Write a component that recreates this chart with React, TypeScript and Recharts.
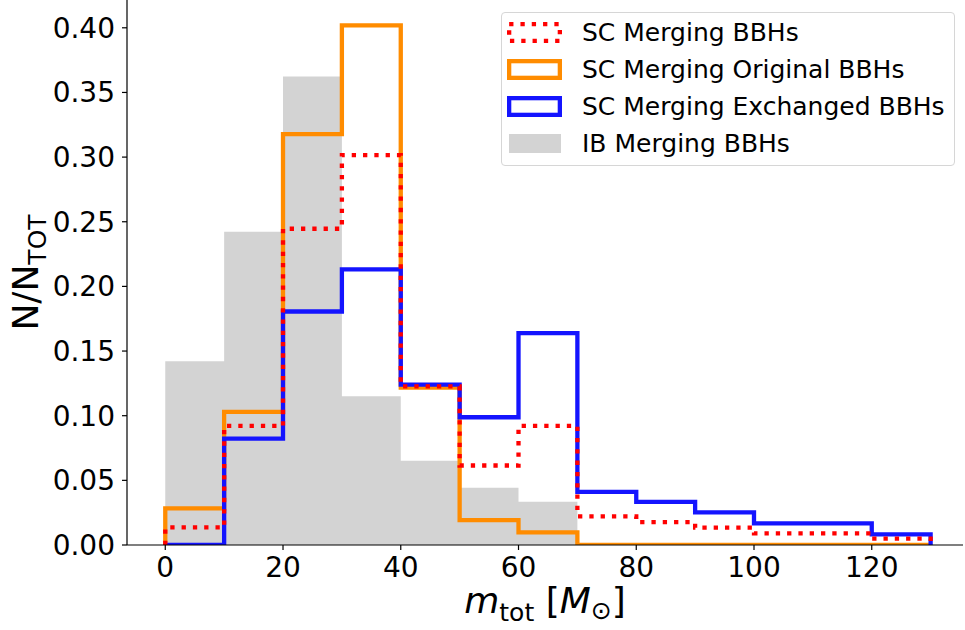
import { ComposedChart, Line, Area, XAxis, YAxis, Legend } from 'recharts'

// bin edges of the mass histogram (M_sun)
const binEdges = [0, 10, 20, 30, 40, 50, 60, 70, 80, 90, 100, 110, 120, 130]

// normalised counts per bin
const scMerging = [0.0136, 0.0921, 0.2446, 0.3015, 0.1227, 0.0615, 0.0921, 0.0221, 0.0177, 0.0134, 0.009, 0.009, 0.0049]
const scOriginal = [0.0283, 0.1029, 0.3177, 0.4018, 0.1217, 0.0193, 0.0098, 0, 0, 0, 0, 0, 0]
const scExchanged = [0, 0.0823, 0.1806, 0.2132, 0.124, 0.0988, 0.1638, 0.0411, 0.0334, 0.0252, 0.0167, 0.0167, 0.0082]
const ibMerging = [0.1422, 0.2423, 0.3624, 0.115, 0.0651, 0.0442, 0.0334, 0, 0, 0, 0, 0, 0]

const xTicks = [0, 20, 40, 60, 80, 100, 120]
const yTicks = [0, 0.05, 0.1, 0.15, 0.2, 0.25, 0.3, 0.35, 0.4]

const legendItems = [
  { label: 'SC Merging BBHs', kind: 'dotted', color: '#ff0000' },
  { label: 'SC Merging Original BBHs', kind: 'step', color: '#ff8c00' },
  { label: 'SC Merging Exchanged BBHs', kind: 'step', color: '#1414ff' },
  { label: 'IB Merging BBHs', kind: 'fill', color: '#d3d3d3' },
]

const FONT = '"DejaVu Sans", sans-serif'
const LW = 4.3

// step outline: starts at 0 on the left edge, closes back to 0 on the right edge
const nBins = binEdges.length - 1
const rows = [
  { x: binEdges[0], sc: 0, orig: 0, exch: 0, ib: 0 },
  ...binEdges.slice(0, nBins).map((e, i) => ({
    x: e,
    sc: scMerging[i],
    orig: scOriginal[i],
    exch: scExchanged[i],
    ib: ibMerging[i],
  })),
  {
    x: binEdges[nBins],
    sc: scMerging[nBins - 1],
    orig: scOriginal[nBins - 1],
    exch: scExchanged[nBins - 1],
    ib: ibMerging[nBins - 1],
  },
  { x: binEdges[nBins], sc: 0, orig: 0, exch: 0, ib: 0 },
]

function XLabel(props: any) {
  const vb = props.viewBox || {}
  const cx = vb.x + vb.width / 2
  return (
    <text x={cx} y={613} textAnchor="middle" fontFamily={FONT} fontSize={36} fill="#000">
      <tspan fontStyle="italic">m</tspan>
      <tspan fontSize={25} dy={8}>tot</tspan>
      <tspan dy={-8}> [</tspan>
      <tspan fontStyle="italic">M</tspan>
      <tspan fontSize={25} dy={6}>⊙</tspan>
      <tspan dy={-6}>]</tspan>
    </text>
  )
}

function YLabel(props: any) {
  const vb = props.viewBox || {}
  const cy = vb.y + vb.height / 2
  const bx = 38
  return (
    <text x={bx} y={cy} transform={`rotate(-90, ${bx}, ${cy})`} textAnchor="middle" fontFamily={FONT} fontSize={36} fill="#000">
      N/N
      <tspan fontSize={25} dy={8}>TOT</tspan>
    </text>
  )
}

function Swatch({ kind, color }: { kind: string; color: string }) {
  if (kind === 'fill') {
    return (
      <svg width={55} height={21}>
        <rect x={2} y={1} width={52} height={19} fill={color} />
      </svg>
    )
  }
  return (
    <svg width={55} height={21}>
      <rect
        x={LW / 2}
        y={LW / 2}
        width={55 - LW}
        height={21 - LW}
        fill="none"
        stroke={color}
        strokeWidth={LW}
        strokeDasharray={kind === 'dotted' ? '4.3 7' : undefined}
      />
    </svg>
  )
}

function LegendBox() {
  return (
    <div
      style={{
        width: 454,
        height: 154,
        boxSizing: 'border-box',
        border: '1px solid #d6d6d6',
        borderRadius: 4,
        background: 'rgba(255,255,255,0.8)',
        paddingTop: 1,
        fontFamily: FONT,
        fontSize: 25,
        color: '#000',
      }}
    >
      {legendItems.map((it) => (
        <div key={it.label} style={{ display: 'flex', alignItems: 'center', height: 37, paddingLeft: 5 }}>
          <Swatch kind={it.kind} color={it.color} />
          <span style={{ marginLeft: 20, whiteSpace: 'nowrap', lineHeight: '37px' }}>{it.label}</span>
        </div>
      ))}
    </div>
  )
}

export default function App() {
  return (
    <div style={{ position: 'absolute', left: 0, top: 0, width: 965, height: 630, background: '#fff' }}>
      <ComposedChart width={965} height={630} data={rows} margin={{ top: 0, right: 2, bottom: 0, left: 0 }}>
        <XAxis
          dataKey="x"
          type="number"
          domain={[-6.5, 135.5]}
          ticks={xTicks}
          interval={0}
          height={85}
          tickSize={5}
          tickMargin={7}
          stroke="#000"
          strokeWidth={1.2}
          tick={{ fill: '#000', fontSize: 28, fontFamily: FONT }}
          label={<XLabel />}
        />
        <YAxis
          type="number"
          domain={[0, 0.4215]}
          allowDataOverflow
          ticks={yTicks}
          interval={0}
          width={127}
          tickSize={5}
          tickMargin={7}
          stroke="#000"
          strokeWidth={1.2}
          tickFormatter={(v: number) => v.toFixed(2)}
          tick={{ fill: '#000', fontSize: 28, fontFamily: FONT }}
          label={<YLabel />}
        />
        <Legend
          layout="horizontal"
          verticalAlign="middle"
          align="center"
          wrapperStyle={{ left: 501, top: 12, width: 454 }}
          content={() => <LegendBox />}
        />
        <Area
          dataKey="ib"
          type="stepAfter"
          fill="#d3d3d3"
          fillOpacity={1}
          stroke="none"
          isAnimationActive={false}
          dot={false}
          activeDot={false}
        />
        <Line
          dataKey="orig"
          type="stepAfter"
          stroke="#ff8c00"
          strokeWidth={LW}
          strokeLinejoin="miter"
          strokeLinecap="butt"
          dot={false}
          activeDot={false}
          isAnimationActive={false}
        />
        <Line
          dataKey="exch"
          type="stepAfter"
          stroke="#1414ff"
          strokeWidth={LW}
          strokeLinejoin="miter"
          strokeLinecap="butt"
          dot={false}
          activeDot={false}
          isAnimationActive={false}
        />
        <Line
          dataKey="sc"
          type="stepAfter"
          stroke="#ff0000"
          strokeWidth={LW}
          strokeDasharray="4.3 7"
          strokeLinejoin="miter"
          strokeLinecap="butt"
          dot={false}
          activeDot={false}
          isAnimationActive={false}
        />
      </ComposedChart>
    </div>
  )
}
